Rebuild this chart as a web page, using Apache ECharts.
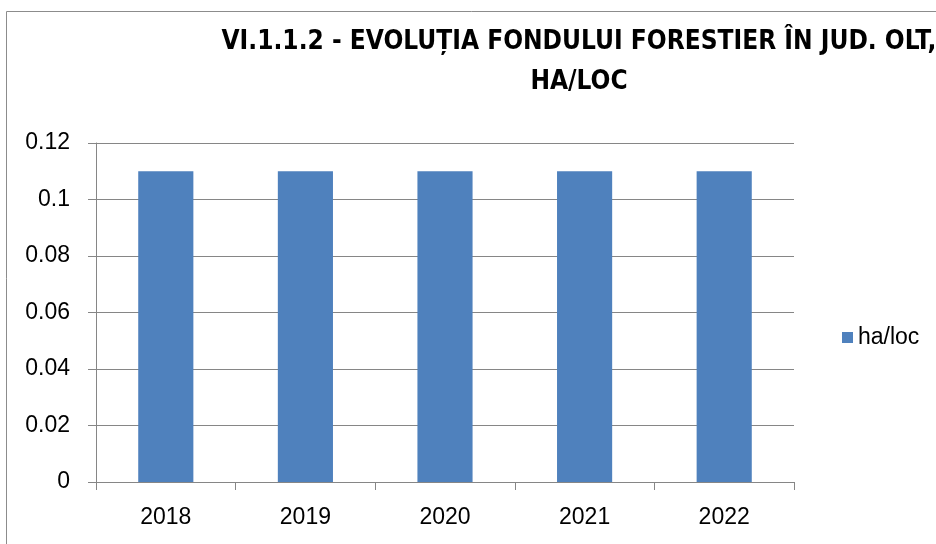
<!DOCTYPE html>
<html>
<head>
<meta charset="utf-8">
<script src="https://cdn.jsdelivr.net/npm/echarts@6/dist/echarts.min.js"></script>
<style>
  html, body { margin: 0; padding: 0; background: #fff; }
  #chart { width: 936px; height: 544px; }
</style>
</head>
<body>
<div id="chart"></div>
<script>
var years = ['2018', '2019', '2020', '2021', '2022'];
var haLoc = [0.11, 0.11, 0.11, 0.11, 0.11];
var yTicks = [0, 0.02, 0.04, 0.06, 0.08, 0.1, 0.12];

var chart = echarts.init(document.getElementById('chart'));
var font = "'Liberation Sans', Arial, sans-serif";
var axisGray = '#868686';

chart.setOption({
  animation: false,
  title: {
    text: 'VI.1.1.2 - EVOLUȚIA FONDULUI FORESTIER ÎN JUD. OLT,\nHA/LOC',
    left: 574,
    top: 17,
    textAlign: 'center',
    textStyle: {
      fontFamily: "'DejaVu Sans Condensed', sans-serif",
      fontWeight: 'bold',
      fontSize: 26,
      lineHeight: 40,
      color: '#000'
    }
  },
  legend: {
    data: ['ha/loc'],
    orient: 'vertical',
    left: 837,
    top: 321,
    itemWidth: 11,
    itemHeight: 11,
    itemGap: 6,
    icon: 'rect',
    textStyle: { fontFamily: font, fontSize: 23, color: '#000' }
  },
  graphic: [{
    type: 'rect',
    shape: { x: 6.5, y: 11.5, width: 1000, height: 1000 },
    style: { fill: 'none', stroke: '#8c8c8c', lineWidth: 1 },
    silent: true
  }],
  grid: { left: 96, right: 142, top: 143, bottom: 62 },
  xAxis: {
    type: 'category',
    data: years,
    axisLine: { lineStyle: { color: axisGray } },
    axisTick: { show: true, length: 8, lineStyle: { color: axisGray } },
    axisLabel: { fontFamily: font, fontSize: 23, color: '#000', margin: 24 }
  },
  yAxis: {
    type: 'value',
    min: 0,
    max: 0.12,
    interval: 0.02,
    axisLine: { show: true, lineStyle: { color: axisGray } },
    axisTick: { show: true, length: 8, lineStyle: { color: axisGray } },
    splitLine: { lineStyle: { color: axisGray } },
    axisLabel: {
      fontFamily: font, fontSize: 23, color: '#000', margin: 26,
      formatter: function (v) {
        for (var i = 0; i < yTicks.length; i++) {
          if (Math.abs(yTicks[i] - v) < 1e-9) return String(yTicks[i]);
        }
        return '';
      }
    }
  },
  series: [{
    name: 'ha/loc',
    type: 'bar',
    data: haLoc,
    barWidth: '39.5%',
    itemStyle: { color: '#4F81BD' }
  }]
});
</script>
</body>
</html>
